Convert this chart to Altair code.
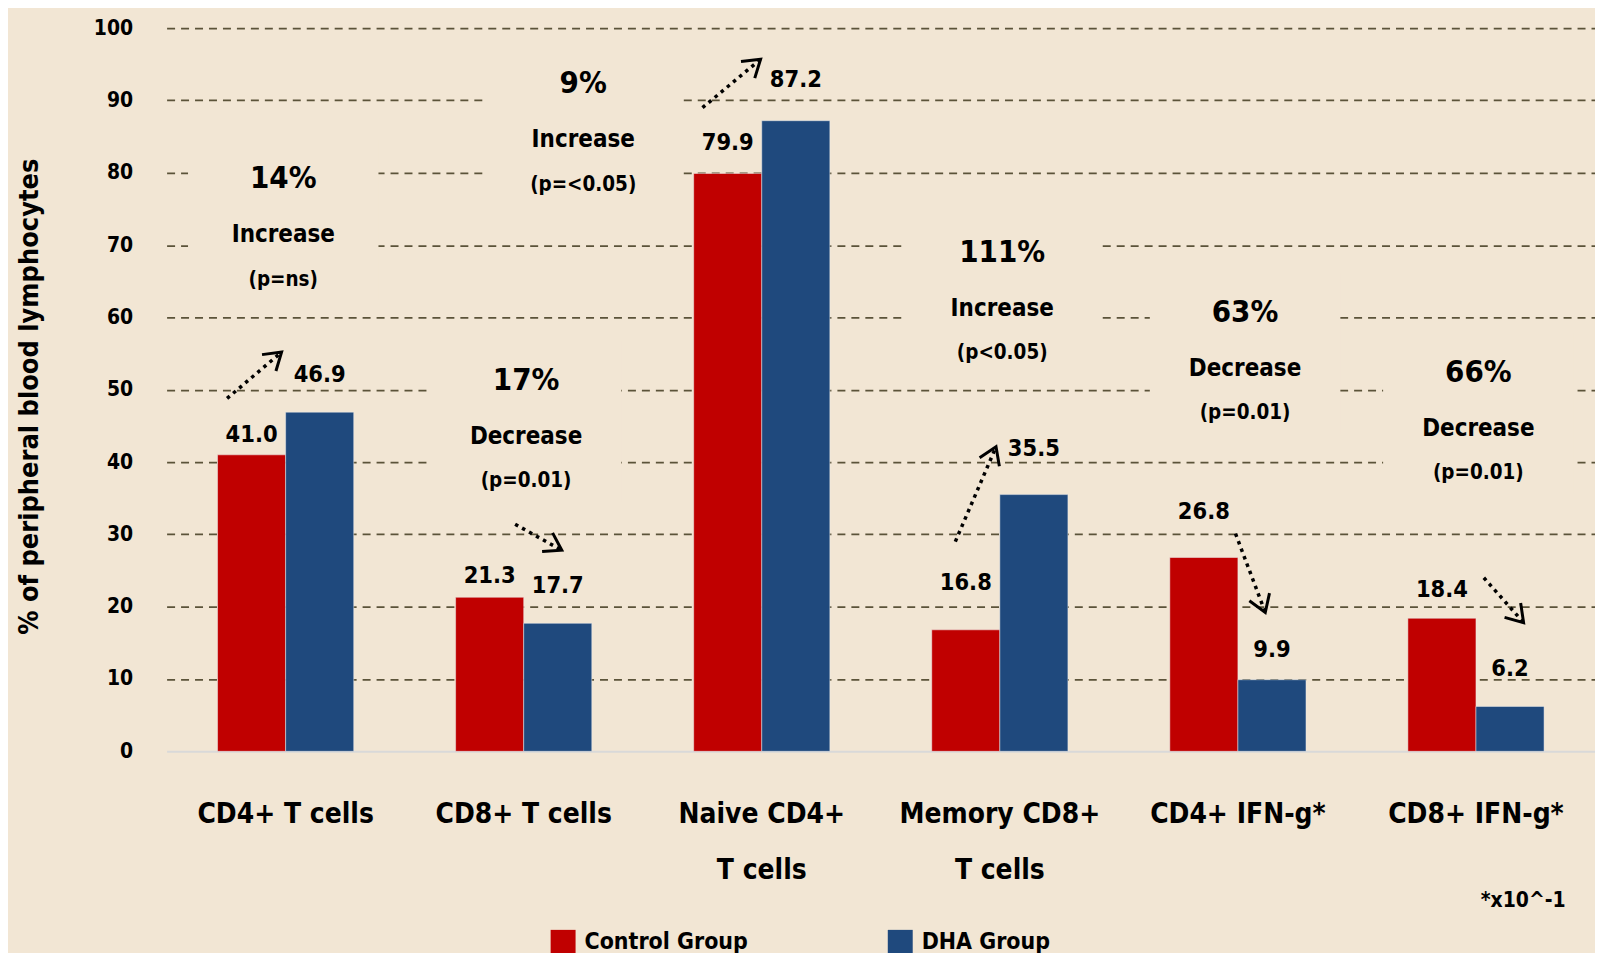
import math
import altair as alt
import pandas as pd

# ---------------- data ----------------
categories = ["CD4+ T cells", "CD8+ T cells", "Naive CD4+ T cells",
              "Memory CD8+ T cells", "CD4+ IFN-g*", "CD8+ IFN-g*"]
groups = ["Control Group", "DHA Group"]
control = [41.0, 21.3, 79.9, 16.8, 26.8, 18.4]
dha = [46.9, 17.7, 87.2, 35.5, 9.9, 6.2]

# where each value label sits (in axis units)
control_label_y = [42.75, 23.3, 83.1, 22.3, 32.1, 21.4]
dha_label_y = [51.1, 21.9, 91.8, 40.8, 13.0, 10.4]

pct_change = ["14%", "17%", "9%", "111%", "63%", "66%"]
direction = ["Increase", "Decrease", "Increase", "Increase", "Decrease", "Decrease"]
p_values = ["(p=ns)", "(p=0.01)", "(p=<0.05)", "(p<0.05)", "(p=0.01)", "(p=0.01)"]
# annotation anchors: x in category units (0..6), y in axis units
note_x = [0.49, 1.51, 1.75, 3.51, 4.53, 5.51]
note_y = [79.7, 51.8, 92.8, 69.5, 61.2, 52.9]

# dotted arrows (start -> tip), x in category units, y in axis units
arrow_x1 = [0.254, 1.464, 2.251, 3.313, 4.490, 5.533]
arrow_y1 = [48.8, 31.4, 89.0, 29.0, 30.1, 24.0]
arrow_x2 = [0.483, 1.660, 2.495, 3.484, 4.615, 5.700]
arrow_y2 = [55.2, 27.8, 95.7, 42.1, 19.2, 17.8]

footnote = "*x10^-1"

# ---------------- style ----------------
BG = "#F2E6D4"
RED = "#C00000"
BLUE = "#1F497D"
GRID = "#5B5339"
FONT = "DejaVu Sans Condensed, Liberation Sans, DejaVu Sans, sans-serif"
Y_TITLE = "% of peripheral blood lymphocytes"
PLOT_W = 1432
PLOT_H = 725
PX_X = PLOT_W / 6.0
PX_Y = PLOT_H / 100.0

# ---------------- tables ----------------
bars = pd.DataFrame(
    [{"category": c, "group": groups[0], "value": v, "label_y": ly, "label": f"{v:.1f}"}
     for c, v, ly in zip(categories, control, control_label_y)]
    + [{"category": c, "group": groups[1], "value": v, "label_y": ly, "label": f"{v:.1f}"}
       for c, v, ly in zip(categories, dha, dha_label_y)]
)

notes = pd.DataFrame({
    "u": note_x, "y0": note_y, "pct": pct_change, "dir": direction, "p": p_values,
})
notes["bx1"] = notes["u"] - 0.40
notes["bx2"] = notes["u"] + 0.40
notes["by1"] = notes["y0"] + 35 / PX_Y
notes["by2"] = notes["y0"] - 125 / PX_Y

arrows = pd.DataFrame({"u1": arrow_x1, "v1": arrow_y1, "u2": arrow_x2, "v2": arrow_y2})
arrows["ang"] = [
    (math.degrees(math.atan2(-(b2 - b1) * PX_Y, (a2 - a1) * PX_X)) + 360) % 360
    for a1, b1, a2, b2 in zip(arrow_x1, arrow_y1, arrow_x2, arrow_y2)
]

foot = pd.DataFrame({"t": [footnote]})

# ---------------- scales ----------------
band = alt.Scale(domain=categories, paddingInner=0.428, paddingOuter=0.214)
offs = alt.Scale(domain=groups, paddingInner=0, paddingOuter=0)
yscale = alt.Scale(domain=[0, 100], nice=False, zero=True)
uscale = alt.Scale(domain=[0, 6], nice=False, zero=True)

label_expr = ("datum.value === 'Naive CD4+ T cells' ? ['Naive CD4+', 'T cells'] : "
              "datum.value === 'Memory CD8+ T cells' ? ['Memory CD8+', 'T cells'] : datum.value")

x_axis = alt.Axis(title=None, labelAngle=0, labelFontSize=28, labelFontWeight="bold",
                  labelColor="black", labelPadding=49, ticks=False, grid=False,
                  domainColor="#D9D9D9", domainWidth=2, labelExpr=label_expr,
                  labelLineHeight=57, labelLimit=400)

y_axis = alt.Axis(values=list(range(0, 101, 10)), labelFontSize=21, labelFontWeight="bold",
                  labelColor="black", labelPadding=34, ticks=False, domain=False,
                  grid=True, gridColor=GRID, gridDash=[8, 6], gridWidth=1.75,
                  gridOpacity={"condition": {"test": "datum.value === 0", "value": 0}, "value": 1},
                  title=Y_TITLE, titleFontSize=27, titleFontWeight="bold", titleColor="black",
                  titleX=-137, titleY=369, titleAngle=270, titleAlign="center",
                  titleBaseline="middle")

legend = alt.Legend(orient="none", legendX=385, legendY=904, direction="horizontal",
                    title=None, symbolType="square", symbolSize=625, symbolStrokeWidth=0,
                    labelFontSize=23, labelFontWeight="bold", labelColor="black",
                    labelOffset=9, columnPadding=140, padding=0, labelLimit=300)

# ---------------- layers ----------------
boxes = alt.Chart(notes).mark_rect(fill=BG).encode(
    x=alt.X("bx1:Q", scale=uscale, axis=None),
    x2="bx2",
    y=alt.Y("by1:Q", scale=yscale, title=Y_TITLE),
    y2="by2",
)

bar_layer = alt.Chart(bars).mark_bar(stroke="#EDEDED", strokeWidth=1, strokeOpacity=0.5).encode(
    x=alt.X("category:N", scale=band, axis=x_axis, sort=categories),
    xOffset=alt.XOffset("group:N", scale=offs, sort=groups),
    y=alt.Y("value:Q", scale=yscale, axis=y_axis, title=Y_TITLE),
    color=alt.Color("group:N", scale=alt.Scale(domain=groups, range=[RED, BLUE]), legend=legend),
)

value_labels = alt.Chart(bars).mark_text(fontSize=23.5, fontWeight="bold", color="black",
                                         baseline="alphabetic", align="center").encode(
    x=alt.X("category:N", scale=band, axis=None, sort=categories),
    xOffset=alt.XOffset("group:N", scale=offs, sort=groups),
    y=alt.Y("label_y:Q", scale=yscale, title=Y_TITLE),
    text="label:N",
)

def note_text(field, size, dy):
    return alt.Chart(notes).mark_text(fontSize=size, fontWeight="bold", color="black",
                                      baseline="middle", align="center", dy=dy).encode(
        x=alt.X("u:Q", scale=uscale, axis=None),
        y=alt.Y("y0:Q", scale=yscale, title=Y_TITLE),
        text=f"{field}:N",
    )

pct_text = note_text("pct", 31, 4)
dir_text = note_text("dir", 24, 60)
p_text = note_text("p", 20.5, 105)

shafts = alt.Chart(arrows).mark_rule(color="black", strokeWidth=3.5, strokeDash=[3.5, 4.5]).encode(
    x=alt.X("u1:Q", scale=uscale, axis=None),
    x2="u2",
    y=alt.Y("v1:Q", scale=yscale, title=Y_TITLE),
    y2="v2",
)

CHEVRON = "M -1 -0.65 L 0 0 L -1 0.65"
heads = alt.Chart(arrows).mark_point(shape=CHEVRON, filled=False, stroke="black",
                                     strokeWidth=3, size=1100, opacity=1).encode(
    x=alt.X("u2:Q", scale=uscale, axis=None),
    y=alt.Y("v2:Q", scale=yscale, title=Y_TITLE),
    angle=alt.Angle("ang:Q", scale=None),
)

foot_text = alt.Chart(foot).mark_text(fontSize=21, fontWeight="bold", color="black",
                                      align="center", baseline="middle").encode(
    x=alt.value(1360), y=alt.value(875), text="t:N",
)

chart = alt.layer(
    boxes, bar_layer, value_labels, pct_text, dir_text, p_text, shafts, heads, foot_text
).resolve_scale(x="independent").properties(
    width=PLOT_W, height=PLOT_H,
    padding={"left": 159, "top": 19, "right": 0, "bottom": 201},
    autosize=alt.AutoSizeParams(type="none"),
    background=BG,
).configure(font=FONT).configure_view(stroke=None)

chart.save("out.html", embed_options={"renderer": "svg", "actions": False})
